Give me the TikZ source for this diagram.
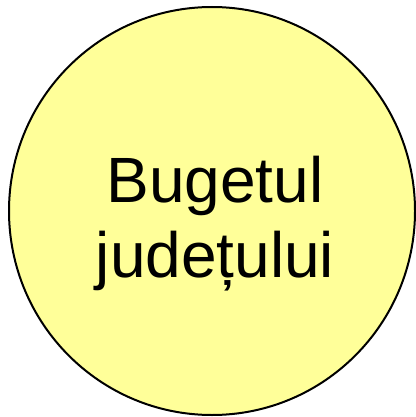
\documentclass[tikz,border=0pt]{standalone}
\usepackage{fontspec}
\setmainfont{Liberation Sans}
\definecolor{fillyellow}{HTML}{FFFF99}
\tikzset{bubble/.style={draw=black, line width=2pt, fill=fillyellow},
  label/.style={align=center, font=\fontsize{64}{75}\selectfont, inner sep=0pt}}
\begin{document}
\begin{tikzpicture}[x=1pt,y=-1pt]
\useasboundingbox (0,0) rectangle (415,417);
\draw[bubble] (212,211) ellipse [x radius=203, y radius=204];
\node[label, anchor=base] (t) at (215,277) {Bugetul\\județului};
\end{tikzpicture}
\end{document}
